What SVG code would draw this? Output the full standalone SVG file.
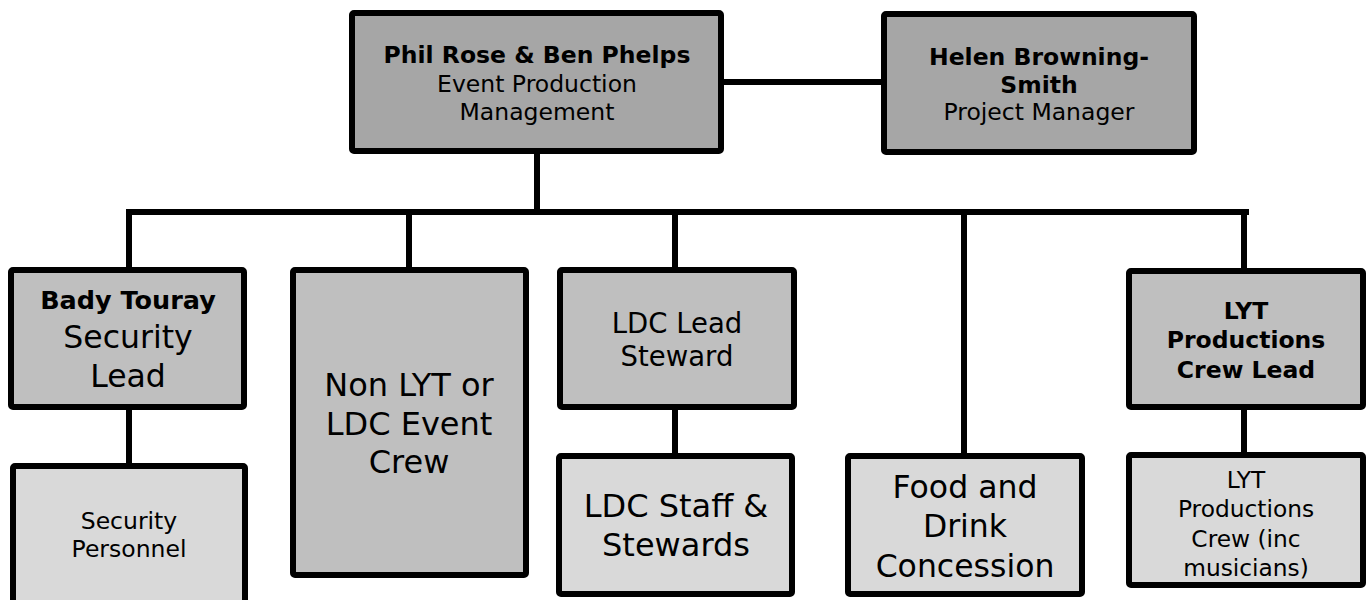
<svg xmlns="http://www.w3.org/2000/svg" width="1366" height="600" viewBox="0 0 1366 600">
<style>
.box{stroke:#000;stroke-width:6;stroke-linejoin:round}
.l1{fill:#a6a6a6}
.l2{fill:#bfbfbf}
.l3{fill:#d9d9d9}
.conn{stroke:#000;stroke-width:6;fill:none}
text{font-family:"DejaVu Sans","Verdana",sans-serif;text-anchor:middle;fill:#000}
.b{font-weight:bold}
</style>
<rect width="1366" height="600" fill="#fff"/>
<g id="connectors">
<line class="conn" x1="724" y1="82" x2="881" y2="82"/>
<line class="conn" x1="537" y1="154" x2="537" y2="212"/>
<line class="conn" x1="126" y1="212" x2="1249" y2="212"/>
<line class="conn" x1="129" y1="209" x2="129" y2="267"/>
<line class="conn" x1="409" y1="212" x2="409" y2="267"/>
<line class="conn" x1="675" y1="212" x2="675" y2="267"/>
<line class="conn" x1="964" y1="212" x2="964" y2="453"/>
<line class="conn" x1="1244" y1="209" x2="1244" y2="268"/>
<line class="conn" x1="129" y1="410" x2="129" y2="463"/>
<line class="conn" x1="675" y1="410" x2="675" y2="453"/>
<line class="conn" x1="1244" y1="410" x2="1244" y2="452"/>
</g>
<g id="node-phil">
<rect class="box l1" x="352" y="13" width="369" height="138" rx="2"/>
<text x="537" y="63" font-size="23.5" class="b">Phil Rose &amp; Ben Phelps</text>
<text x="537" y="92" font-size="23.5" fill="#111">Event Production</text>
<text x="537" y="120" font-size="23.5" fill="#111">Management</text>
</g>
<g id="node-helen">
<rect class="box l1" x="884" y="14" width="310" height="138" rx="2"/>
<text x="1039" y="65" font-size="23.5" class="b">Helen Browning-</text>
<text x="1039" y="93" font-size="23.5" class="b">Smith</text>
<text x="1039" y="120" font-size="23.5" fill="#111">Project Manager</text>
</g>
<g id="node-bady">
<rect class="box l2" x="11" y="270" width="233" height="137" rx="2"/>
<text x="128" y="309" font-size="25.5" class="b">Bady Touray</text>
<text x="128" y="348" font-size="31.5">Security</text>
<text x="128" y="387" font-size="31.5">Lead</text>
</g>
<g id="node-security-personnel">
<rect class="box l3" x="13" y="466" width="232" height="150" rx="2"/>
<text x="129" y="529" font-size="23.5">Security</text>
<text x="129" y="557" font-size="23.5">Personnel</text>
</g>
<g id="node-non-lyt">
<rect class="box l2" x="293" y="270" width="233" height="305" rx="2"/>
<text x="409" y="396" font-size="32">Non LYT or</text>
<text x="409" y="435" font-size="32">LDC Event</text>
<text x="409" y="473" font-size="32">Crew</text>
</g>
<g id="node-ldc-lead">
<rect class="box l2" x="560" y="270" width="234" height="137" rx="2"/>
<text x="677" y="333" font-size="27.5">LDC Lead</text>
<text x="677" y="366" font-size="27.5">Steward</text>
</g>
<g id="node-ldc-staff">
<rect class="box l3" x="559" y="456" width="233" height="138" rx="2"/>
<text x="676" y="517" font-size="32">LDC Staff &amp;</text>
<text x="676" y="556" font-size="32">Stewards</text>
</g>
<g id="node-food">
<rect class="box l3" x="848" y="456" width="234" height="138" rx="2"/>
<text x="965" y="498" font-size="31.5">Food and</text>
<text x="965" y="537" font-size="31.5">Drink</text>
<text x="965" y="577" font-size="31.5">Concession</text>
</g>
<g id="node-lyt-lead">
<rect class="box l2" x="1129" y="271" width="234" height="136" rx="2"/>
<text x="1246" y="319" font-size="23.5" class="b">LYT</text>
<text x="1246" y="348" font-size="23.5" class="b">Productions</text>
<text x="1246" y="378" font-size="23.5" class="b">Crew Lead</text>
</g>
<g id="node-lyt-crew">
<rect class="box l3" x="1129" y="455" width="234" height="130" rx="2"/>
<text x="1246" y="488" font-size="23.3">LYT</text>
<text x="1246" y="517" font-size="23.3">Productions</text>
<text x="1246" y="547" font-size="23.3">Crew (inc</text>
<text x="1246" y="576" font-size="23.3">musicians)</text>
</g>
</svg>
